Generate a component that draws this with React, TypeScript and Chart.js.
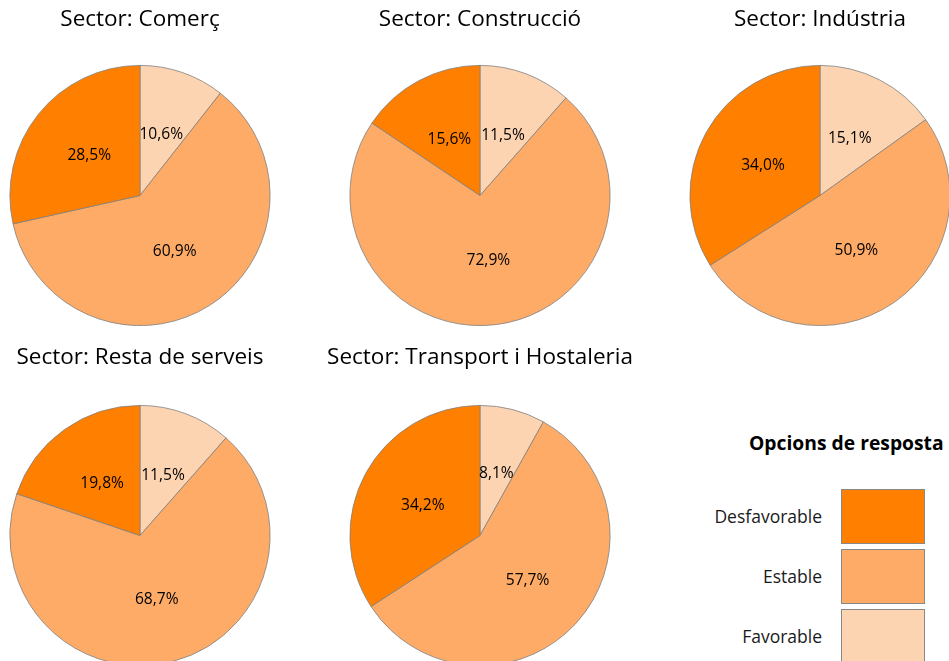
import React, { useEffect, useRef } from "react";
import { Chart, registerables } from "chart.js";

Chart.register(...registerables);

const categories = ["Favorable", "Estable", "Desfavorable"];
const sectors = ["Comerç", "Construcció", "Indústria", "Resta de serveis", "Transport i Hostaleria"];
const favorable = [10.6, 11.5, 15.1, 11.5, 8.1];
const estable = [60.9, 72.9, 50.9, 68.7, 57.7];
const desfavorable = [28.5, 15.6, 34.0, 19.8, 34.2];
const legendTitle = "Opcions de resposta";
const legendOrder = ["Desfavorable", "Estable", "Favorable"];

const COLORS: Record<string, string> = {
  Favorable: "#FDD4B1",
  Estable: "#FDAB67",
  Desfavorable: "#FF7F00",
};
const FONT = "'Open Sans', 'Noto Sans', sans-serif";

const labelPlugin = {
  id: "sliceLabels",
  afterDatasetsDraw(chart: any) {
    const ctx = chart.ctx;
    const meta = chart.getDatasetMeta(0);
    const data = chart.data.datasets[0].data as number[];
    ctx.save();
    ctx.font = `15.6px ${FONT}`;
    ctx.fillStyle = "#000";
    ctx.textAlign = "center";
    ctx.textBaseline = "middle";
    meta.data.forEach((arc: any, i: number) => {
      const p = arc.getProps(["x", "y", "startAngle", "endAngle", "outerRadius"], true);
      const mid = (p.startAngle + p.endAngle) / 2;
      const r = p.outerRadius / 2;
      const x = p.x + Math.cos(mid) * r;
      const y = p.y + Math.sin(mid) * r;
      ctx.fillText(data[i].toFixed(1).replace(".", ",") + "%", x, y + 1);
    });
    ctx.restore();
  },
};

function Pie({ idx, left, top, row }: { idx: number; left: number; top: number; row: number }) {
  const ref = useRef<HTMLCanvasElement>(null);
  useEffect(() => {
    if (!ref.current) return;
    const values = [favorable[idx], estable[idx], desfavorable[idx]];
    const chart = new Chart(ref.current, {
      type: "pie",
      data: {
        labels: categories,
        datasets: [
          {
            data: values,
            backgroundColor: categories.map((c) => COLORS[c]),
            borderColor: "#808080",
            borderWidth: 0.8,
          },
        ],
      },
      options: {
        responsive: false,
        animation: false,
        layout: { padding: 0 },
        plugins: {
          legend: { display: false },
          tooltip: { enabled: false },
          title: {
            display: true,
            text: "Sector: " + sectors[idx],
            color: "#000",
            font: { family: FONT, size: 22.5, weight: "normal", lineHeight: 1.2 },
            padding: row === 0 ? { top: 6.5, bottom: 31.5 } : { top: 4.5, bottom: 33.5 },
          },
        },
      },
      plugins: [labelPlugin],
    });
    return () => chart.destroy();
  }, [idx, row]);
  return (
    <canvas
      ref={ref}
      width={340}
      height={326}
      style={{ position: "absolute", left, top, width: 340, height: 326 }}
    />
  );
}

export default function App() {
  const centers = [140, 480, 820];
  const boxTops = [489, 549, 609];
  return (
    <div
      style={{
        position: "fixed",
        left: 0,
        top: 0,
        width: 949,
        height: 661,
        overflow: "hidden",
        background: "#fff",
        fontFamily: FONT,
      }}
    >
      {sectors.map((_, i) => {
        const row = i < 3 ? 0 : 1;
        const col = i % 3;
        return <Pie key={i} idx={i} row={row} left={centers[col] - 170} top={row === 0 ? 0 : 340} />;
      })}
      <div
        style={{
          position: "absolute",
          left: 749,
          top: 429,
          fontSize: 19.3,
          fontWeight: "bold",
          lineHeight: "28px",
          whiteSpace: "nowrap",
          color: "#000",
        }}
      >
        {legendTitle}
      </div>
      {legendOrder.map((c, i) => (
        <React.Fragment key={c}>
          <div
            style={{
              position: "absolute",
              right: 949 - 822,
              top: boxTops[i],
              height: 54,
              lineHeight: "54px",
              fontSize: 17.5,
              whiteSpace: "nowrap",
              color: "#1a1a1a",
            }}
          >
            {c}
          </div>
          <div
            style={{
              position: "absolute",
              left: 841,
              top: boxTops[i],
              width: 82,
              height: 53,
              background: COLORS[c],
              border: "1px solid #888",
            }}
          />
        </React.Fragment>
      ))}
    </div>
  );
}
